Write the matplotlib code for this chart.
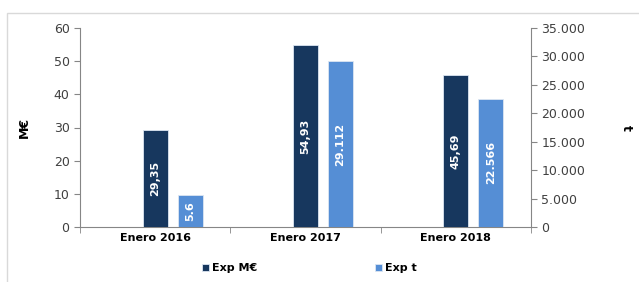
import matplotlib
matplotlib.use("Agg")
import matplotlib.pyplot as plt
from matplotlib.patches import Rectangle
from matplotlib.ticker import FuncFormatter
import numpy as np

# data
categories = ['Enero 2016', 'Enero 2017', 'Enero 2018']
exp_meur = [29.35, 54.93, 45.69]
exp_t = [5600, 29112, 22566]
labels_meur = ['29,35', '54,93', '45,69']
labels_t = ['5.6', '29.112', '22.566']

dark = '#17375E'
light = '#558ED5'
textcol = '#404040'
axcol = '#868686'

plt.rcParams['font.family'] = ['DejaVu Sans']

fig = plt.figure(figsize=(6.39, 2.82), dpi=100, facecolor='white')
fig.patches.append(Rectangle((7 / 639, -0.1), 1.2, 1 - 13 / 282 + 0.1,
                             transform=fig.transFigure, fill=False,
                             edgecolor='#d9d9d9', linewidth=1))

ax1 = fig.add_axes([80 / 639, 1 - 227 / 282, (531 - 80) / 639, (227 - 28) / 282])
ax2 = ax1.twinx()

x = np.arange(len(categories))
w = 0.167
off = 0.233
b1 = ax1.bar(x, exp_meur, width=w, color=dark, edgecolor='#dce6f2', linewidth=0.6, zorder=3)
b2 = ax2.bar(x + off, exp_t, width=w, color=light, edgecolor='#dce6f2', linewidth=0.6, zorder=3)

for rect, lab in zip(b1, labels_meur):
    ax1.text(rect.get_x() + rect.get_width() / 2, rect.get_height() / 2, lab,
             rotation=90, ha='center', va='center', color='white',
             fontsize=8, fontweight='bold')
for rect, lab in zip(b2, labels_t):
    ax2.text(rect.get_x() + rect.get_width() / 2, rect.get_height() / 2, lab,
             rotation=90, ha='center', va='center', color='white',
             fontsize=8, fontweight='bold')

ax1.set_xlim(-0.5, 2.5)
ax1.set_ylim(0, 60)
ax1.set_yticks(range(0, 61, 10))
ax2.set_ylim(0, 35000)
ax2.set_yticks(range(0, 35001, 5000))
ax2.yaxis.set_major_formatter(FuncFormatter(lambda v, p: '{:,.0f}'.format(v).replace(',', '.')))

ax1.set_xticks(x)
ax1.set_xticklabels(categories, fontweight='bold', fontsize=8, color='black')
ax1.set_xticks([-0.5, 0.5, 1.5, 2.5], minor=True)
ax1.tick_params(axis='x', which='major', length=0, pad=4)
ax1.tick_params(axis='x', which='minor', length=4, color=axcol)

for ax in (ax1, ax2):
    ax.set_facecolor('none')
    ax.spines['top'].set_visible(False)
    for s in ('left', 'right', 'bottom'):
        ax.spines[s].set_color(axcol)
    ax.tick_params(axis='y', length=4, color=axcol, labelcolor=textcol, labelsize=9)
ax1.spines['right'].set_visible(False)
ax2.spines['left'].set_visible(False)
ax2.spines['bottom'].set_visible(False)

ax1.set_ylabel('M€', fontweight='bold', fontsize=9, labelpad=16)
ax2.set_ylabel('t', fontweight='bold', fontsize=9, rotation=-90, labelpad=34)

leg = fig.legend([b1, b2], ['Exp M€', 'Exp t'], loc='center', ncol=2,
                 bbox_to_anchor=(0.484, 1 - 268 / 282), frameon=False,
                 prop={'weight': 'bold', 'size': 8}, handlelength=0.6,
                 handleheight=0.6, handletextpad=0.3, columnspacing=10.6)

fig.savefig('out.png', dpi=100, facecolor='white')
